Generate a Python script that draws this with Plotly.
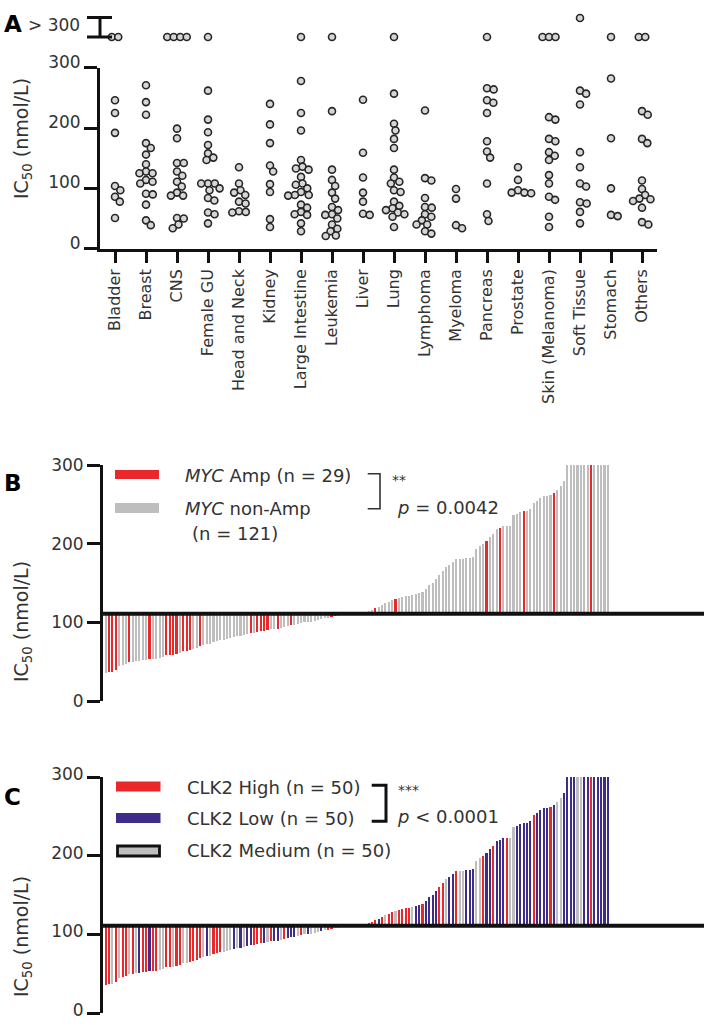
import numpy as np
import plotly.graph_objects as go

W, H = 709, 1026
# The photographed page maps the figure's paper onto output rows 14..1014,
# so vertical positions (given as target pixel rows) are converted accordingly.
def fx(px): return px / W
def fy(py): return 1 - (py - 14) / 1000.0

FONT = "DejaVu Sans"
TXT = "#333333"
AX = "#111111"

# ---------------- Panel A data ----------------
categories = ["Bladder", "Breast", "CNS", "Female GU", "Head and Neck", "Kidney",
              "Large Intestine", "Leukemia", "Liver", "Lung", "Lymphoma", "Myeloma",
              "Pancreas", "Prostate", "Skin (Melanoma)", "Soft Tissue", "Stomach", "Others"]

bladder = [246, 225, 192, 104, 97, 86, 78, 51]
breast = [271, 243, 222, 175, 167, 156, 140, 128, 125, 125, 114, 111, 108, 91, 90, 73, 47, 39]
cns = [199, 183, 142, 142, 128, 121, 111, 103, 93, 88, 88, 51, 50, 40, 34]
female_gu = [262, 214, 193, 172, 158, 151, 147, 108, 108, 108, 100, 97, 84, 80, 60, 57, 42]
head_neck = [135, 108, 97, 93, 89, 78, 75, 62, 61, 60]
kidney = [240, 206, 175, 138, 128, 107, 94, 49, 36]
large_intestine = [278, 225, 196, 147, 136, 133, 131, 119, 108, 106, 100, 94, 89, 89, 88,
                   73, 68, 61, 57, 56, 42, 29]
leukemia = [228, 131, 114, 104, 93, 83, 69, 64, 57, 56, 50, 40, 33, 29, 22, 21]
liver = [247, 159, 118, 93, 78, 58, 56]
lung = [257, 207, 196, 182, 167, 131, 118, 111, 108, 97, 94, 78, 71, 67, 64, 60, 57, 53, 36]
lymphoma = [229, 117, 113, 84, 69, 68, 57, 53, 47, 40, 40, 29, 25]
myeloma = [99, 83, 39, 34]
pancreas = [266, 264, 246, 242, 225, 178, 161, 151, 108, 57, 46]
prostate = [135, 114, 97, 93, 93, 92]
skin = [218, 214, 182, 178, 160, 154, 147, 122, 108, 86, 81, 53, 36]
soft_tissue = [262, 257, 239, 160, 135, 108, 103, 77, 75, 61, 42]
stomach = [282, 183, 100, 56, 54]
others = [228, 222, 182, 175, 113, 99, 89, 83, 82, 79, 68, 44, 40]

series_a = [bladder, breast, cns, female_gu, head_neck, kidney, large_intestine, leukemia,
            liver, lung, lymphoma, myeloma, pancreas, prostate, skin, soft_tissue, stomach, others]

# cell lines with IC50 > 300 nmol/L per category (lower / upper level of the axis break)
over300_low = [2, 0, 4, 1, 0, 0, 1, 1, 0, 1, 0, 0, 1, 0, 3, 0, 1, 2]
over300_high = [0, 0, 0, 0, 0, 0, 0, 0, 0, 0, 0, 0, 0, 0, 0, 1, 0, 0]

# ---------------- Panels B / C data (sorted IC50, capped at 300) ----------------
sorted_ic50 = [36, 37, 37, 40, 44, 46, 47, 49, 50, 51, 51, 52, 52, 53, 54, 54, 55, 56, 58, 58,
               59, 60, 61, 63, 64, 65, 66, 68, 70, 71, 72, 73, 75, 76, 77, 78, 79, 80, 81, 82,
               83, 84, 85, 86, 87, 88, 89, 89, 90, 91, 92, 92, 93, 94, 95, 96, 97, 98, 99, 100,
               101, 101, 102, 103, 104, 105, 106, 107, 108, 108, 110, 110, 111, 111, 111, 111, 112, 112,
               114, 116, 118, 120, 122, 124, 126, 128, 130, 131, 132, 133, 134, 135, 136, 137, 138, 142,
               147, 150, 155, 160, 165, 170, 173, 177, 181, 181, 181, 182, 182, 183, 193, 197, 200, 204,
               209, 212, 219, 220, 222, 222, 223, 236, 238, 240, 241, 242, 244, 252, 254, 258, 260, 261,
               262, 264, 268, 273, 280, 300, 300, 300, 300, 300, 300, 300, 300, 300, 300, 300, 300, 300]

myc_amp_idx = [1, 2, 3, 7, 13, 18, 19, 20, 21, 23, 24, 25, 28, 43, 45, 46, 47, 48, 51, 55,
               67, 68, 80, 86, 113, 117, 124, 133, 144]

clk2_group = list(
    "HHMHMHHMHM" "LHHLHHMMHH" "MHHMMHHHHM" "LMHHHMMMLM" "LMLLHHHLMH"
    "LLMHLLLMHM" "LMMMLMHHMM" "HMLMMHMLHH" "HLHMHHMHHH" "HMLLHLLLLH"
    "HMLLHMMLLL" "MMHLLHLLLH" "MMLLLLLHLL" "LLHLMMLLLL" "MMLLHLLLLL")

MED = float(np.median(sorted_ic50))

RED = "#E8282B"
GRAY = "#BEBEBE"
PURPLE = "#3E2C88"

fig = go.Figure()

# ---------------- Panel A : beeswarm ----------------
PX_PER_UNIT_Y = 181 / 300.0
PX_PER_CAT = 31.0
D = 6.8

def swarm(vals):
    order = sorted(range(len(vals)), key=lambda k: -vals[k])
    placed, offs = [], [0.0] * len(vals)
    for k in order:
        y = vals[k] * PX_PER_UNIT_Y
        cands = [0.0]
        for (px_, py_) in placed:
            dy = y - py_
            if abs(dy) < D:
                dx = (D * D - dy * dy) ** 0.5
                cands += [px_ + dx, px_ - dx]
        cands.sort(key=abs)
        for c in cands:
            if all((c - a) ** 2 + (y - b) ** 2 >= D * D - 1e-6 for a, b in placed):
                offs[k] = c
                placed.append((c, y))
                break
    return [o / PX_PER_CAT for o in offs]

xs, ys = [], []
for ci, vals in enumerate(series_a):
    for o, v in zip(swarm(vals), vals):
        xs.append(ci + o)
        ys.append(v)

marker_a = dict(size=7, color="#D6D6D6", line=dict(color="#262626", width=1.6))
fig.add_trace(go.Scatter(x=xs, y=ys, mode="markers", marker=marker_a,
                         xaxis="x", yaxis="y", showlegend=False, cliponaxis=False))

ox, oy = [], []
for ci in range(len(categories)):
    for lvl, cnt in ((0, over300_low[ci]), (1, over300_high[ci])):
        for j in range(cnt):
            ox.append(ci + (j - (cnt - 1) / 2) * 6.5 / PX_PER_CAT)
            oy.append(lvl)
fig.add_trace(go.Scatter(x=ox, y=oy, mode="markers", marker=marker_a,
                         xaxis="x", yaxis="y2", showlegend=False, cliponaxis=False))

# ---------------- Panel B ----------------
idx = list(range(len(sorted_ic50)))
colors_b = [RED if i in myc_amp_idx else GRAY for i in idx]
fig.add_trace(go.Bar(x=idx, y=[v - MED for v in sorted_ic50], base=MED, width=0.62,
                     marker=dict(color=colors_b, line=dict(width=0)),
                     xaxis="x2", yaxis="y4", showlegend=False))

# ---------------- Panel C ----------------
cmap = {"H": RED, "L": PURPLE, "M": GRAY}
colors_c = [cmap[g] for g in clk2_group]
fig.add_trace(go.Bar(x=idx, y=[v - MED for v in sorted_ic50], base=MED, width=0.62,
                     marker=dict(color=colors_c, line=dict(width=0)),
                     xaxis="x3", yaxis="y5", showlegend=False))

tickfont = dict(family=FONT, size=17, color=TXT)
yax_common = dict(range=[0, 300], tickvals=[0, 100, 200, 300], ticks="outside", ticklen=13,
                  tickwidth=3, tickcolor=AX, showline=True, linewidth=3, linecolor=AX,
                  showgrid=False, zeroline=False, tickfont=tickfont, fixedrange=True)

xr = [-0.8, -0.8 + 600 / 3.37]

fig.update_layout(
    width=W, height=H, margin=dict(l=0, r=0, t=0, b=0),
    paper_bgcolor="white", plot_bgcolor="white", bargap=0,
    xaxis=dict(domain=[fx(100), fx(657)], range=[-0.484, 17.484], tickvals=list(range(18)),
               ticktext=categories, tickangle=-90, ticks="outside", ticklen=11, tickwidth=3,
               tickcolor=AX, showline=True, linewidth=3, linecolor=AX, showgrid=False,
               zeroline=False, tickfont=dict(family=FONT, size=16, color=TXT), anchor="y",
               fixedrange=True),
    yaxis=dict(domain=[fy(246.7), fy(65.7)], anchor="x", ticklabelshift=-6, **yax_common),
    yaxis2=dict(domain=[fy(35), fy(16)], range=[0, 1], anchor="x", visible=False),
    xaxis2=dict(domain=[fx(103), fx(703)], range=xr, visible=False, anchor="y4"),
    yaxis4=dict(domain=[fy(699), fy(463)], anchor="x2", **yax_common),
    xaxis3=dict(domain=[fx(103), fx(703)], range=xr, visible=False, anchor="y5"),
    yaxis5=dict(domain=[fy(1011), fy(775)], anchor="x3", ticklabelshift=-3, **yax_common),
)

shapes = []
# thick baselines at the median IC50
for yref in ("y4", "y5"):
    shapes.append(dict(type="line", xref="paper", yref=yref, x0=fx(103), x1=fx(704),
                       y0=MED, y1=MED, line=dict(color=AX, width=4), layer="above"))

def line(x0, y0, x1, y1, w=3, col=AX):
    return dict(type="line", xref="paper", yref="paper", x0=fx(x0), x1=fx(x1),
                y0=fy(y0), y1=fy(y1), line=dict(color=col, width=w))

# broken-axis "I" for values > 300
shapes += [line(100, 15.5, 100, 35), line(87, 15.5, 112, 15.5), line(87, 35, 112, 35)]

def rect(x0, y0, x1, y1, fill, lc=None, lw=0):
    return dict(type="rect", xref="paper", yref="paper", x0=fx(x0), x1=fx(x1),
                y0=fy(y1), y1=fy(y0), fillcolor=fill,
                line=dict(color=lc or fill, width=lw))

def bracket(x0, x1, y0, y1, w, col):
    path = f"M {fx(x0)} {fy(y0)} L {fx(x1)} {fy(y0)} L {fx(x1)} {fy(y1)} L {fx(x0)} {fy(y1)}"
    return dict(type="path", xref="paper", yref="paper", path=path, line=dict(color=col, width=w))

shapes += [rect(115, 468, 159, 477, RED), rect(115, 501, 159, 511, GRAY),
           bracket(367.7, 380, 471.7, 506.7, 1.6, "#333333"),
           rect(116, 779.5, 160.5, 789.5, RED), rect(116, 811, 160.5, 821, PURPLE),
           rect(117.5, 844, 159.5, 854, GRAY, AX, 2.8),
           bracket(371.7, 386, 783.3, 819.3, 3, AX)]
fig.update_layout(shapes=shapes)

def ann(x, y, text, size=18, xanchor="left", angle=0, color=TXT):
    return dict(x=fx(x), y=fy(y), xref="paper", yref="paper", text=text, showarrow=False,
                xanchor=xanchor, yanchor="middle", textangle=angle,
                font=dict(family=FONT, size=size, color=color))

title = "IC<sub>50</sub> (nmol/L)"
anns = [
    ann(22, 137, title, 19, "center", -90),
    ann(22, 620, title, 19, "center", -90),
    ann(22, 935, title, 19, "center", -90),
    ann(82, 23, "> 300", 17, "right"),
    ann(183, 473, "<i>MYC</i> Amp (n = 29)"),
    ann(183, 506, "<i>MYC</i> non-Amp"),
    ann(190, 531, "(n = 121)"),
    ann(390, 478, "**", 14),
    ann(395, 505, "<i>p</i> = 0.0042"),
    ann(185, 785, "CLK2 High (n = 50)"),
    ann(185, 816, "CLK2 Low (n = 50)"),
    ann(185, 848, "CLK2 Medium (n = 50)"),
    ann(396, 788, "***", 14),
    ann(395, 814, "<i>p</i> &lt; 0.0001"),
]
for lab, yy in (("A", 22), ("B", 481), ("C", 795)):
    anns.append(ann(2, yy, f"<b>{lab}</b>", 23, "left", 0, color="#000000"))
fig.update_layout(annotations=anns)

post = ("document.documentElement.style.margin='0';document.body.style.margin='0';"
        "document.documentElement.style.overflow='hidden';document.body.style.overflow='hidden';"
        "var d=document.getElementById('{plot_id}');d.style.position='fixed';"
        "d.style.top='0px';d.style.left='0px';")
fig.write_html("out.html", config={"displayModeBar": False, "staticPlot": True},
               post_script=post)
